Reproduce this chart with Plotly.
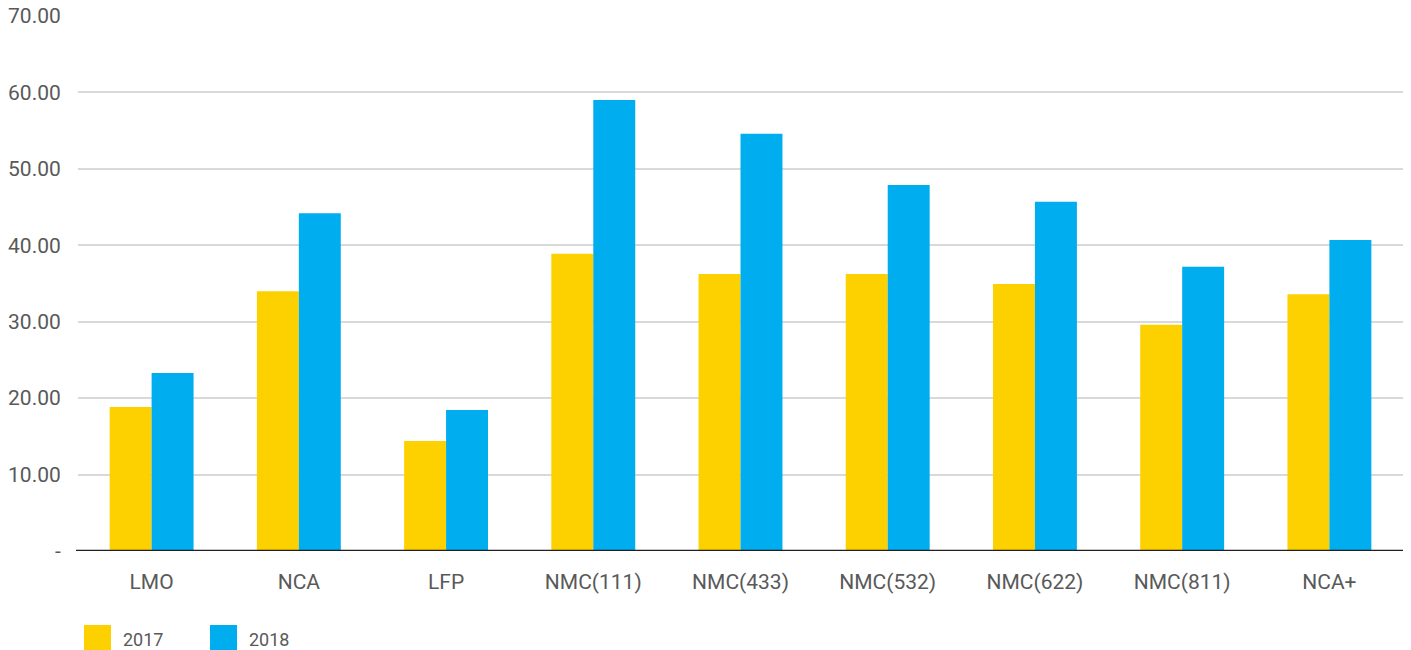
import plotly.graph_objects as go

categories = ["LMO", "NCA", "LFP", "NMC(111)", "NMC(433)", "NMC(532)", "NMC(622)", "NMC(811)", "NCA+"]
values_2017 = [18.85, 34.0, 14.4, 38.9, 36.25, 36.25, 34.95, 29.6, 33.6]
values_2018 = [23.3, 44.2, 18.45, 59.0, 54.6, 47.9, 45.7, 37.2, 40.7]
series_names = ["2017", "2018"]
tick_vals = [0, 10, 20, 30, 40, 50, 60, 70]
tick_text = ["-", "10.00", "20.00", "30.00", "40.00", "50.00", "60.00", "70.00"]

YELLOW = "#FDD100"
BLUE = "#00ADEE"
FONT = "Roboto"
TXT = "#595959"

fig = go.Figure()
fig.add_trace(go.Bar(x=categories, y=values_2017, name=series_names[0], marker_color=YELLOW,
                     marker_line_width=0, showlegend=False))
fig.add_trace(go.Bar(x=categories, y=values_2018, name=series_names[1], marker_color=BLUE,
                     marker_line_width=0, showlegend=False))

W, H = 1411, 650
ml, mr, mt, mb = 78, 8, 16, 99
pw = W - ml - mr
ph = H - mt - mb

def px_x(x):
    return (x - ml) / pw

def px_y(y):
    return (H - mb - y) / ph

shapes = []
annotations = []
legend_items = [(series_names[0], YELLOW, 84), (series_names[1], BLUE, 210)]
for name, col, x0 in legend_items:
    shapes.append(dict(type="rect", xref="paper", yref="paper",
                       x0=px_x(x0), x1=px_x(x0 + 27), y0=px_y(651), y1=px_y(625),
                       fillcolor=col, line_width=0))
    annotations.append(dict(xref="paper", yref="paper", x=px_x(x0 + 37), y=px_y(639),
                            text=name, showarrow=False, xanchor="left", yanchor="middle",
                            font=dict(family=FONT, size=18, color=TXT)))
# zero baseline
shapes.append(dict(type="line", xref="paper", yref="y", x0=px_x(76), x1=1, y0=0, y1=0,
                   line=dict(color="#231F20", width=2.5)))

fig.update_layout(
    width=W, height=H,
    margin=dict(l=ml, r=mr, t=mt, b=mb, pad=0),
    plot_bgcolor="white", paper_bgcolor="white",
    barmode="group", bargap=0.43, bargroupgap=0,
    font=dict(family=FONT, size=18, color=TXT),
    xaxis=dict(showgrid=False, showline=False, zeroline=False, ticks="outside",
               ticklen=12, tickcolor="rgba(0,0,0,0)", automargin=False,
               tickfont=dict(family=FONT, size=21, color=TXT)),
    yaxis=dict(range=[0, 70], tickvals=tick_vals, ticktext=tick_text,
               showgrid=True, gridcolor="#D9D9D9", gridwidth=1.5,
               zeroline=False, showline=False, ticks="outside", ticklen=12,
               tickcolor="rgba(0,0,0,0)", automargin=False,
               tickfont=dict(family=FONT, size=21, color=TXT)),
    shapes=shapes, annotations=annotations,
    showlegend=False,
)

fig.write_html("out.html")
